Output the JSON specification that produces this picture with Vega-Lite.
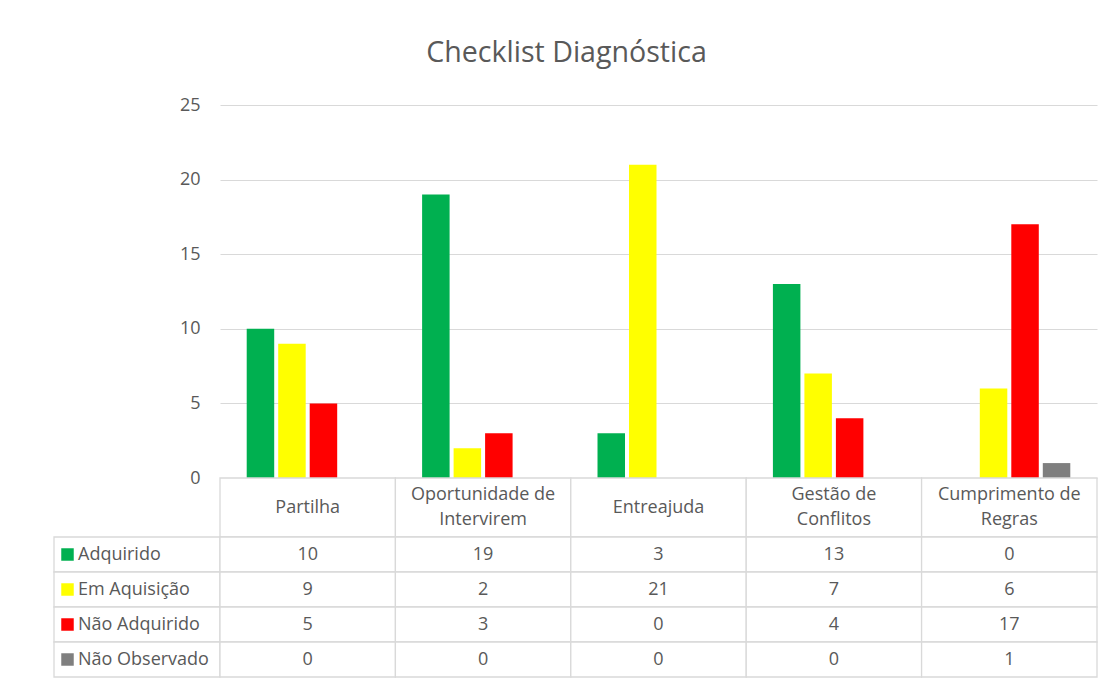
{
  "$schema": "https://vega.github.io/schema/vega-lite/v6.json",
  "padding": {"left": 53, "top": 39, "right": 17, "bottom": 5},
  "background": "white",
  "title": {"text": "Checklist Diagnóstica", "fontSize": 28.6, "font": "Open Sans", "fontWeight": "normal", "color": "#595959", "anchor": "middle", "dx": -9, "offset": 28},
  "datasets": {
    "main": [
      {"cat": "Partilha", "series": "Adquirido", "value": 10},
      {"cat": "Partilha", "series": "Em Aquisição", "value": 9},
      {"cat": "Partilha", "series": "Não Adquirido", "value": 5},
      {"cat": "Partilha", "series": "Não Observado", "value": 0},
      {"cat": "Oportunidade de Intervirem", "series": "Adquirido", "value": 19},
      {"cat": "Oportunidade de Intervirem", "series": "Em Aquisição", "value": 2},
      {"cat": "Oportunidade de Intervirem", "series": "Não Adquirido", "value": 3},
      {"cat": "Oportunidade de Intervirem", "series": "Não Observado", "value": 0},
      {"cat": "Entreajuda", "series": "Adquirido", "value": 3},
      {"cat": "Entreajuda", "series": "Em Aquisição", "value": 21},
      {"cat": "Entreajuda", "series": "Não Adquirido", "value": 0},
      {"cat": "Entreajuda", "series": "Não Observado", "value": 0},
      {"cat": "Gestão de Conflitos", "series": "Adquirido", "value": 13},
      {"cat": "Gestão de Conflitos", "series": "Em Aquisição", "value": 7},
      {"cat": "Gestão de Conflitos", "series": "Não Adquirido", "value": 4},
      {"cat": "Gestão de Conflitos", "series": "Não Observado", "value": 0},
      {"cat": "Cumprimento de Regras", "series": "Adquirido", "value": 0},
      {"cat": "Cumprimento de Regras", "series": "Em Aquisição", "value": 6},
      {"cat": "Cumprimento de Regras", "series": "Não Adquirido", "value": 17},
      {"cat": "Cumprimento de Regras", "series": "Não Observado", "value": 1}
    ],
    "cats": [
      {"cat": "Partilha", "label": "Partilha"},
      {"cat": "Oportunidade de Intervirem", "label": "Oportunidade de\nIntervirem"},
      {"cat": "Entreajuda", "label": "Entreajuda"},
      {"cat": "Gestão de Conflitos", "label": "Gestão de\nConflitos"},
      {"cat": "Cumprimento de Regras", "label": "Cumprimento de\nRegras"}
    ],
    "series": [
      {"series": "Adquirido"},
      {"series": "Em Aquisição"},
      {"series": "Não Adquirido"},
      {"series": "Não Observado"}
    ]
  },
  "columns": 2,
  "spacing": 0,
  "bounds": "flush",
  "align": "each",
  "concat": [
    {
      "width": 166, "height": 373,
      "data": {"values": []},
      "mark": "point",
      "encoding": {}
    },
    {
      "width": 877, "height": 373,
      "data": {"name": "main"},
      "mark": {"type": "bar"},
      "encoding": {
        "x": {"field": "cat", "type": "nominal", "axis": null,
              "scale": {"domain": ["Partilha", "Oportunidade de Intervirem", "Entreajuda", "Gestão de Conflitos", "Cumprimento de Regras"], "paddingInner": 0, "paddingOuter": 0}},
        "xOffset": {"field": "series", "type": "nominal",
              "scale": {"domain": ["Adquirido", "Em Aquisição", "Não Adquirido", "Não Observado"], "paddingInner": 0.127, "paddingOuter": 0.848}},
        "y": {"field": "value", "type": "quantitative",
              "scale": {"domain": [0, 25], "nice": false},
              "axis": {"values": [0, 5, 10, 15, 20, 25], "title": null, "domain": false, "ticks": false, "tickSize": 0,
                       "labelPadding": 20, "labelFontSize": 18, "labelColor": "#595959", "labelFont": "Open Sans",
                       "gridColor": "#d9d9d9", "gridWidth": 1}},
        "color": {"field": "series", "type": "nominal", "legend": null,
              "scale": {"domain": ["Adquirido", "Em Aquisição", "Não Adquirido", "Não Observado"], "range": ["#00B050", "#FFFF00", "#FF0000", "#7F7F7F"]}}
      }
    },
    {
      "width": 166, "height": 59,
      "data": {"values": []},
      "mark": "point",
      "encoding": {}
    },
    {
      "width": 877, "height": 59,
      "data": {"name": "cats"},
      "encoding": {
        "x": {"field": "cat", "type": "nominal", "axis": null,
              "scale": {"domain": ["Partilha", "Oportunidade de Intervirem", "Entreajuda", "Gestão de Conflitos", "Cumprimento de Regras"], "paddingInner": 0, "paddingOuter": 0}}
      },
      "layer": [
        {"mark": {"type": "rect", "fill": "white", "stroke": "#d9d9d9", "strokeWidth": 1.3}},
        {"transform": [{"filter": "indexof(datum.label, '\\n') < 0"}],
         "mark": {"type": "text", "fontSize": 18, "font": "Open Sans", "color": "#595959", "baseline": "middle"},
         "encoding": {"text": {"field": "label"}}},
        {"transform": [{"filter": "indexof(datum.label, '\\n') >= 0"}],
         "mark": {"type": "text", "fontSize": 18, "font": "Open Sans", "color": "#595959", "lineBreak": "\n", "lineHeight": 25, "baseline": "middle", "dy": -12.5},
         "encoding": {"text": {"field": "label"}}}
      ]
    },
    {
      "width": 166, "height": 140,
      "data": {"name": "series"},
      "encoding": {
        "y": {"field": "series", "type": "nominal", "axis": null,
              "scale": {"domain": ["Adquirido", "Em Aquisição", "Não Adquirido", "Não Observado"], "paddingInner": 0, "paddingOuter": 0}}
      },
      "layer": [
        {"mark": {"type": "rect", "fill": "white", "stroke": "#d9d9d9", "strokeWidth": 1.3}},
        {"mark": {"type": "square", "size": 156, "opacity": 1, "filled": true},
         "encoding": {"x": {"value": 13.5},
                      "color": {"field": "series", "type": "nominal", "legend": null,
                                "scale": {"domain": ["Adquirido", "Em Aquisição", "Não Adquirido", "Não Observado"], "range": ["#00B050", "#FFFF00", "#FF0000", "#7F7F7F"]}}}},
        {"mark": {"type": "text", "fontSize": 18, "font": "Open Sans", "color": "#595959", "align": "left", "baseline": "middle"},
         "encoding": {"x": {"value": 24}, "text": {"field": "series"}}}
      ]
    },
    {
      "width": 877, "height": 140,
      "data": {"name": "main"},
      "encoding": {
        "x": {"field": "cat", "type": "nominal", "axis": null,
              "scale": {"domain": ["Partilha", "Oportunidade de Intervirem", "Entreajuda", "Gestão de Conflitos", "Cumprimento de Regras"], "paddingInner": 0, "paddingOuter": 0}},
        "y": {"field": "series", "type": "nominal", "axis": null,
              "scale": {"domain": ["Adquirido", "Em Aquisição", "Não Adquirido", "Não Observado"], "paddingInner": 0, "paddingOuter": 0}}
      },
      "layer": [
        {"mark": {"type": "rect", "fill": "white", "stroke": "#d9d9d9", "strokeWidth": 1.3}},
        {"mark": {"type": "text", "fontSize": 18, "font": "Open Sans", "color": "#595959", "baseline": "middle"},
         "encoding": {"text": {"field": "value", "type": "quantitative"}}}
      ]
    }
  ],
  "config": {
    "view": {"stroke": null},
    "font": "Open Sans"
  }
}
